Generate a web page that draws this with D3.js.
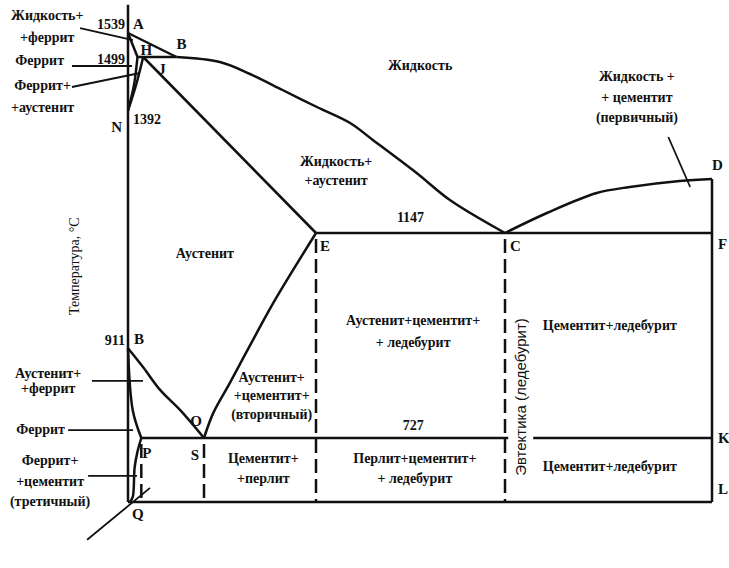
<!DOCTYPE html>
<html>
<head>
<meta charset="utf-8">
<script src="https://cdn.jsdelivr.net/npm/d3@7"></script>
<style>
  body { margin: 0; background: #fff; }
  svg text { font-family: "Liberation Serif", "DejaVu Serif", serif; fill: #111; }
</style>
</head>
<body>
<div id="chart"></div>
<script>
// iron - carbon diagram, carbon in %, temperature in °C
const tempTicks = [1539, 1499, 1392, 1147, 911, 727];

const pointIds    = ["A", "H", "J", "B", "N", "E", "C", "D", "F", "G", "S", "P", "K", "Q", "L"];
const pointText   = ["A", "H", "J", "B", "N", "E", "C", "D", "F", "B", "S", "P", "K", "Q", "L"];
const pointCarbon = [0, 0.1, 0.16, 0.51, 0, 2.14, 4.3, 6.67, 6.67, 0, 0.8, 0.14, 6.67, 0.02, 6.67];
const pointTemp   = [1539, 1499, 1499, 1499, 1392, 1147, 1147, 1255, 1147, 911, 727, 727, 727, 600, 600];

// curved boundaries
const liquidusBC = [[0.51,1499],[0.99,1489],[1.35,1465],[1.74,1433],[2.15,1399],[2.53,1367],[2.79,1333],[3.29,1267],[3.67,1213],[4.3,1147]];
const liquidusCD = [[4.3,1147],[4.78,1187],[5.35,1227],[5.73,1239],[6.3,1251],[6.67,1255]];
const lineES = [[2.14,1147],[1.65,1010],[1.43,942],[1.11,840],[0.91,778],[0.8,727]];
const lineGS = [[0,911],[0.16,872],[0.34,825],[0.55,784],[0.8,727]];
const lineGP = [[0,911],[0.05,784],[0.14,727]];
const linePQ = [[0.14,727],[0.1,700],[0.07,669],[0.05,610],[0.02,600]];
const lineHN = [[0.1,1499],[0.063,1443],[0,1392]];
const lineJN = [[0.16,1499],[0.085,1443],[0,1392]];

// straight boundaries, by point id
const straight = [["A","B"],["A","H"],["H","B"],["J","E"],["E","F"],["P","K"],["D","L"]];
const dashed = [["P", 600], ["S", 600], ["E", 600], ["C", 600]];
const axisTop = 1586, axisBottom = 600;

const regionText = [
  ["Жидкость+", "+феррит"], ["Феррит"], ["Феррит+", "+аустенит"], ["Жидкость"],
  ["Жидкость+", "+аустенит"], ["Жидкость +", "+ цементит", "(первичный)"], ["Аустенит"],
  ["Аустенит+цементит+", "+ ледебурит"], ["Цементит+ледебурит"], ["Цементит+ледебурит"],
  ["Аустенит+", "+цементит+", "(вторичный)"], ["Цементит+", "+перлит"],
  ["Перлит+цементит+", "+ ледебурит"], ["Аустенит+", "+феррит"], ["Феррит"],
  ["Феррит+", "+цементит", "(третичный)"]
];
const regionCarbon = [-0.85, -0.93, -0.9, 3.33, 2.37, 5.81, 0.81, 3.25, 5.5, 5.5, 1.61, 1.51, 3.27, -0.84, -0.92, -0.82];
const regionTemp   = [1561, 1483, 1433, 1473, 1281, 1451, 1096, 958, 948, 662, 842, 677, 677, 850, 735, 673];

const leaders = [
  [[-0.505,1547],[0.053,1527]], [[-0.59,1481],[0.042,1481]], [[-0.59,1439],[0.126,1467]],
  [[-0.38,844],[0.158,844]], [[-0.63,743],[0.053,743]], [[-0.42,652],[0.095,652]],
  [[-0.43,525],[0.232,628]], [[6.17,1339],[6.42,1239]]
];

// layout
const W = 729, H = 568;
const lineGap = [22, 0, 22, 0, 19, 20.5, 0, 22, 0, 0, 18.5, 20, 20, 15, 0, 20.5];
const pointOffset = {
  A: [5, -4, "start"], H: [3, -2, "start"], J: [15, 17, "start"], B: [0, -8, "start"],
  N: [-6, 21, "end"], E: [4, 18, "start"], C: [5, 18, "start"], D: [0, -9, "start"],
  F: [6, 16, "start"], G: [6, -4, "start"], S: [-5, 22, "end"], P: [1, 20, "start"],
  K: [6, 5, "start"], Q: [2, 17, "start"], L: [6, -8, "start"]
};
// tick label: carbon position, dx, dy, anchor
const tickPlace = {
  1539: [0, -3, -4, "end"], 1499: [0, -3, 7, "end"], 1392: [0, 5, 13, "start"],
  1147: [3.22, 0, -11, "middle"], 911: [0, -3, -3, "end"], 727: [3.25, 0, -8, "middle"]
};

const x = d3.scaleLinear().domain([0, 0.8, 2.14, 4.3, 6.67]).range([128, 204, 316, 505, 712]);
const y = d3.scaleLinear().domain([1539, 1499, 1147, 727, 600]).range([33, 57, 233, 438, 502]);

const pts = {};
pointIds.forEach((id, i) => pts[id] = [pointCarbon[i], pointTemp[i]]);

const svg = d3.select("#chart").append("svg").attr("width", W).attr("height", H);

const line = d3.line().x(d => x(d[0])).y(d => y(d[1]));
const curve = d3.line().x(d => x(d[0])).y(d => y(d[1])).curve(d3.curveCatmullRom);

const g = svg.append("g").attr("fill", "none").attr("stroke", "#111")
  .attr("stroke-width", 2.5).attr("stroke-linejoin", "round");

// axis and bottom
g.append("path").attr("d", line([[0, axisTop], [0, axisBottom]]));
g.append("path").attr("d", line([[0, axisBottom], pts.L]));

straight.forEach(s => g.append("path").attr("d", line([pts[s[0]], pts[s[1]]])));
[liquidusBC, liquidusCD, lineES, lineGS, lineGP, linePQ, lineHN, lineJN]
  .forEach(c => g.append("path").attr("d", curve(c)));

dashed.forEach(d => g.append("path")
  .attr("d", line([pts[d[0]], [pts[d[0]][0], d[1]]]))
  .attr("stroke-dasharray", "14,6").attr("stroke-dashoffset", -6));

// leader lines
g.selectAll(".leader").data(leaders).enter().append("path")
  .attr("class", "leader").attr("stroke-width", 1.8)
  .attr("d", d => line(d));

// region labels
regionText.forEach((lines, i) => {
  const t = svg.append("text")
    .attr("x", x(regionCarbon[i])).attr("y", y(regionTemp[i]))
    .attr("text-anchor", "middle").attr("font-size", 14).attr("font-weight", "bold");
  lines.forEach((s, k) => t.append("tspan")
    .attr("x", x(regionCarbon[i])).attr("dy", k ? lineGap[i] : 0).text(s));
});

// point letters
pointIds.forEach((id, i) => {
  const o = pointOffset[id];
  svg.append("text").attr("x", x(pointCarbon[i]) + o[0]).attr("y", y(pointTemp[i]) + o[1])
    .attr("text-anchor", o[2]).attr("font-size", 15).attr("font-weight", "bold")
    .text(pointText[i]);
});
svg.append("text").attr("x", x(pts.S[0]) - 2).attr("y", y(pts.S[1]) - 12)
  .attr("text-anchor", "end").attr("font-size", 15).attr("font-weight", "bold").text("O");

// temperature ticks
tempTicks.forEach(t => {
  const p = tickPlace[t];
  svg.append("text").attr("x", x(p[0]) + p[1]).attr("y", y(t) + p[2])
    .attr("text-anchor", p[3]).attr("font-size", 14).attr("font-weight", "bold").text(t);
});

// rotated titles
svg.append("text")
  .attr("transform", `translate(${x(-0.558)},${y(1079)}) rotate(-90)`)
  .attr("text-anchor", "middle").attr("dominant-baseline", "central")
  .attr("font-size", 14).text("Температура, °С");

const eut = svg.append("g").attr("transform", `translate(${x(4.48)},${y(811)}) rotate(-90)`);
const eutBg = eut.append("rect").attr("fill", "#fff");
const eutText = eut.append("text").attr("text-anchor", "middle").attr("dominant-baseline", "central")
  .style("font-family", "'Liberation Sans', Arial, sans-serif").attr("font-size", 15)
  .text("Эвтектика (ледебурит)");
const bb = eutText.node().getBBox();
eutBg.attr("x", bb.x).attr("y", bb.y - 4).attr("width", bb.width).attr("height", bb.height + 8);
</script>
</body>
</html>
